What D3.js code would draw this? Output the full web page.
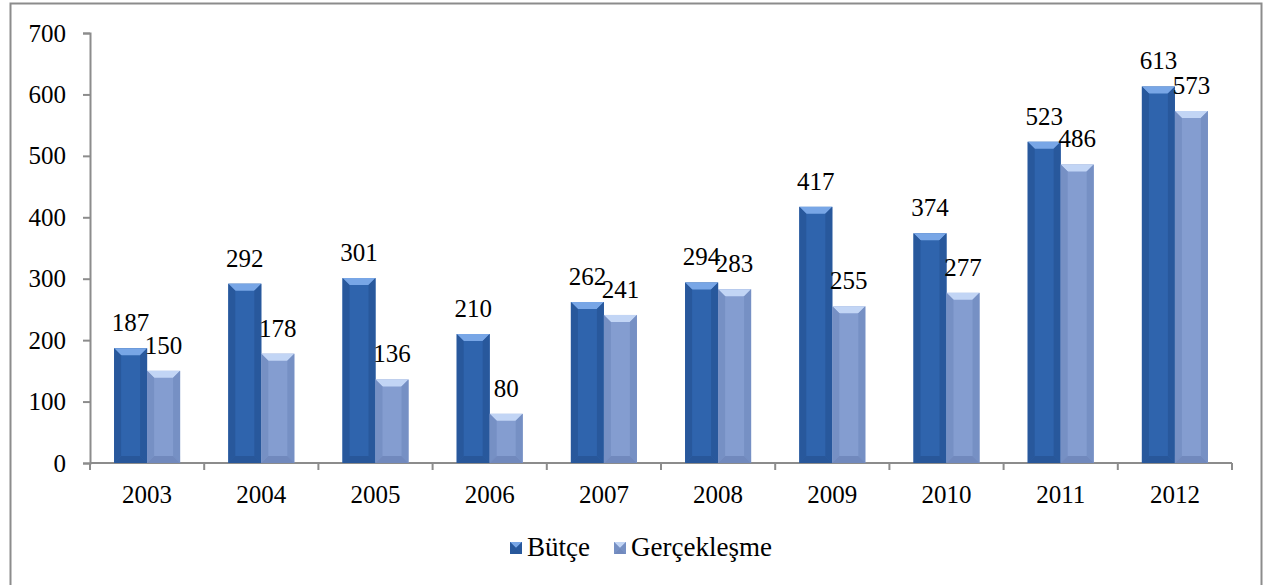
<!DOCTYPE html>
<html>
<head>
<meta charset="utf-8">
<script src="https://cdn.jsdelivr.net/npm/d3@7"></script>
<style>
  body { margin: 0; background: #fff; }
  text { font-family: "Liberation Serif", "Times New Roman", serif; fill: #000; }
</style>
</head>
<body>
<script>
const years = ['2003', '2004', '2005', '2006', '2007', '2008', '2009', '2010', '2011', '2012'];
const butce = [187, 292, 301, 210, 262, 294, 417, 374, 523, 613];
const gerceklesme = [150, 178, 136, 80, 241, 283, 255, 277, 486, 573];
const seriesNames = ['Bütçe', 'Gerçekleşme'];
const yTicks = [0, 100, 200, 300, 400, 500, 600, 700];

const width = 1265;
const height = 585;

const svg = d3.select('body').append('svg')
  .attr('width', width)
  .attr('height', height);

// outer frame
svg.append('rect')
  .attr('x', 10.5).attr('y', 3.5)
  .attr('width', 1251).attr('height', 600)
  .attr('fill', 'none')
  .attr('stroke', '#8c8c8c')
  .attr('stroke-width', 2);

const x0 = d3.scaleBand().domain(years).range([90, 1232]).paddingInner(0).paddingOuter(0);
const x1 = d3.scaleBand().domain(seriesNames).range([0, x0.bandwidth()]).paddingInner(0).paddingOuter(0.73);
const y = d3.scaleLinear().domain([0, 700]).range([463, 33]);

const palette = {
  'Bütçe': { face: '#2f64ad', top: '#78a6e6', side: '#28589c', bottom: '#28579a' },
  'Gerçekleşme': { face: '#849dd0', top: '#c2d5f5', side: '#7690c4', bottom: '#7189bd' }
};

const rows = years.map((yr, i) => ({ year: yr, values: [
  { key: seriesNames[0], value: butce[i] },
  { key: seriesNames[1], value: gerceklesme[i] }
]}));

// axes
const yAxis = d3.axisLeft(y).tickValues(yTicks).tickSize(7).tickPadding(17);
const gy = svg.append('g').attr('transform', 'translate(90,0)').call(yAxis);
gy.select('.domain').attr('stroke', '#8c8c8c').attr('stroke-width', 2);
gy.selectAll('.tick line').attr('stroke', '#8c8c8c').attr('stroke-width', 2);
gy.selectAll('.tick text').style('font-size', '25px').attr('fill', '#000');

const gx = svg.append('g').attr('transform', 'translate(0,463)');
gx.append('line').attr('x1', 90).attr('x2', 1232).attr('stroke', '#8c8c8c').attr('stroke-width', 2);
const bounds = years.map(d => x0(d)).concat([x0.range()[1]]);
gx.selectAll('.xt').data(bounds).enter().append('line')
  .attr('x1', d => d).attr('x2', d => d)
  .attr('y1', 0).attr('y2', 7)
  .attr('stroke', '#8c8c8c').attr('stroke-width', 2);
gx.selectAll('.xl').data(years).enter().append('text')
  .attr('x', d => x0(d) + x0.bandwidth() / 2)
  .attr('y', 40)
  .attr('text-anchor', 'middle')
  .style('font-size', '25px')
  .text(d => d);

// bevelled bar
function bevelBar(g, bx, by, bw, bh, c) {
  const b = Math.min(7, bh / 2);
  g.append('rect').attr('x', bx).attr('y', by).attr('width', bw).attr('height', bh).attr('fill', c.face);
  const poly = (pts, fill) => g.append('polygon').attr('points', pts.map(p => p.join(',')).join(' ')).attr('fill', fill);
  poly([[bx, by], [bx + bw, by], [bx + bw - b, by + b], [bx + b, by + b]], c.top);
  poly([[bx, by], [bx + b, by + b], [bx + b, by + bh - b], [bx, by + bh]], c.side);
  poly([[bx + bw, by], [bx + bw - b, by + b], [bx + bw - b, by + bh - b], [bx + bw, by + bh]], c.side);
  poly([[bx, by + bh], [bx + b, by + bh - b], [bx + bw - b, by + bh - b], [bx + bw, by + bh]], c.bottom);
}

const groups = svg.append('g').selectAll('g')
  .data(rows).enter().append('g')
  .attr('transform', d => `translate(${x0(d.year)},0)`);

groups.each(function(d) {
  const g = d3.select(this);
  d.values.forEach(v => {
    bevelBar(g, x1(v.key), y(v.value), x1.bandwidth(), y(0) - y(v.value), palette[v.key]);
  });
  d.values.forEach(v => {
    g.append('text')
      .attr('x', x1(v.key) + x1.bandwidth() / 2)
      .attr('y', y(v.value) - 17)
      .attr('text-anchor', 'middle')
      .style('font-size', '25px')
      .text(v.value);
  });
});

// legend
const legend = svg.append('g');
const legendItems = [{ key: 'Bütçe', x: 510 }, { key: 'Gerçekleşme', x: 614 }];
legendItems.forEach(it => {
  const lg = legend.append('g');
  bevelBar(lg, it.x, 542, 12, 12, palette[it.key]);
  lg.append('text')
    .attr('x', it.x + 17)
    .attr('y', 556)
    .style('font-size', '27px')
    .text(it.key);
});
</script>
</body>
</html>
